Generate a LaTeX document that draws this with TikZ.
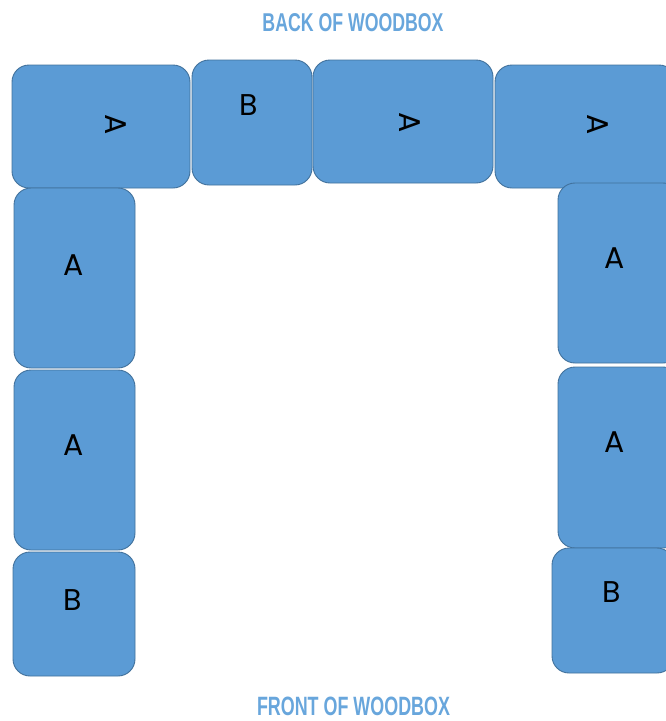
\documentclass[tikz,border=0pt]{standalone}
\usepackage{fontspec}
\usepackage{graphicx}
\setmainfont{Poppins}
\newfontfamily\titlefont{Liberation Sans}
\definecolor{boxfill}{RGB}{91,155,213}
\definecolor{boxline}{RGB}{65,113,156}
\definecolor{titleblue}{RGB}{104,166,220}
\tikzset{
  woodbox/.style={draw=boxline, line width=0.9pt, fill=boxfill, rounded corners=17pt, inner sep=0pt},
  letter/.style={text=black, font=\fontsize{30}{30}\selectfont, inner sep=0pt},
  titletext/.style={text=titleblue, inner sep=0pt}
}
\begin{document}
\begin{tikzpicture}[x=1pt,y=1pt,yscale=-1]
\useasboundingbox (0,0) rectangle (666,721);
\clip (0,0) rectangle (666,721);
% top row
\node[woodbox, minimum width=178pt, minimum height=123pt] (t1) at (101,126.5) {};
\node[woodbox, minimum width=120pt, minimum height=125pt] (t2) at (252,122.5) {};
\node[woodbox, minimum width=180pt, minimum height=123pt] (t3) at (403,121.5) {};
\node[woodbox, minimum width=181pt, minimum height=123pt] (t4) at (585.5,126.5) {};
% left column
\node[woodbox, minimum width=121pt, minimum height=180pt] (l1) at (74.5,278) {};
\node[woodbox, minimum width=121pt, minimum height=180pt] (l2) at (74.5,460) {};
\node[woodbox, minimum width=122pt, minimum height=124pt] (l3) at (74,614) {};
% right column
\node[woodbox, minimum width=122pt, minimum height=180pt] (r1) at (619,273) {};
\node[woodbox, minimum width=122pt, minimum height=181pt] (r2) at (619,457.5) {};
\node[woodbox, minimum width=122pt, minimum height=125pt] (r3) at (613,610.5) {};
% letters
\node[letter, rotate=-90] (at1) at (116,125) {A};
\node[letter] (bt2) at (249,105) {B};
\node[letter, rotate=-90] (at3) at (410,123) {A};
\node[letter, rotate=-90] (at4) at (598,125) {A};
\node[letter] (al1) at (74,265) {A};
\node[letter] (al2) at (74,445) {A};
\node[letter] (bl3) at (73,600) {B};
\node[letter] (ar1) at (615,258) {A};
\node[letter] (ar2) at (615,442) {A};
\node[letter] (br3) at (612,592) {B};
% titles
\node[titletext] (back) at (353,22.5) {\resizebox{181pt}{18pt}{\titlefont\bfseries BACK OF WOODBOX}};
\node[titletext] (front) at (353.5,706) {\resizebox{193pt}{18.5pt}{\titlefont\bfseries FRONT OF WOODBOX}};
\end{tikzpicture}
\end{document}
